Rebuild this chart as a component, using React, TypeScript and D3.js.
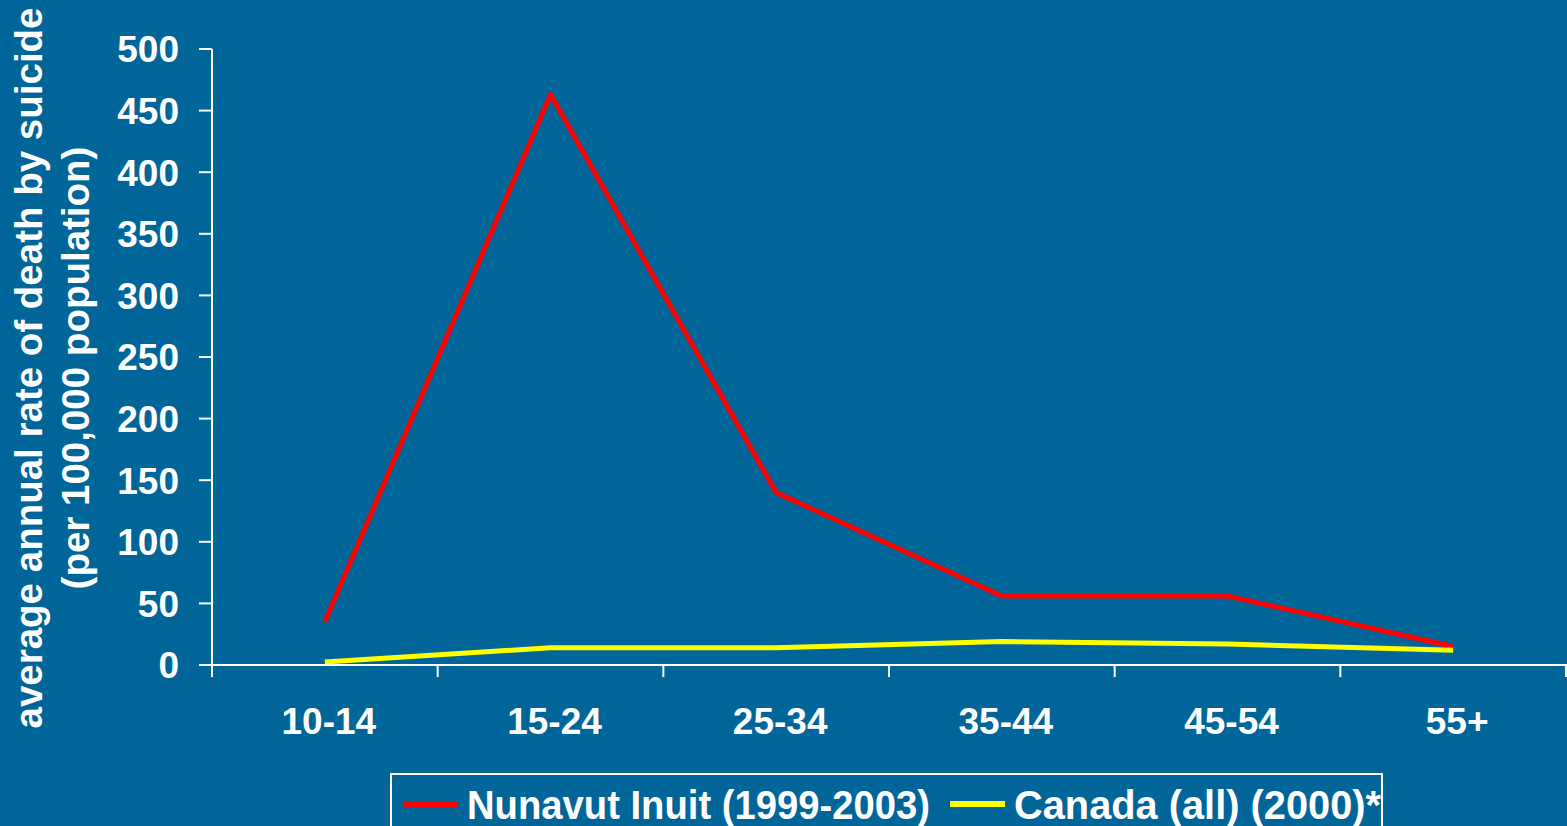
import React from 'react';
import * as d3 from 'd3';

const ageGroups = ['10-14', '15-24', '25-34', '35-44', '45-54', '55+'];
const nunavutRates = [35, 463, 140, 56, 56, 15];
const canadaRates = [2.5, 14, 14, 19, 17, 12];
const yTicks = [0, 50, 100, 150, 200, 250, 300, 350, 400, 450, 500];
const seriesNames = ['Nunavut Inuit (1999-2003)', 'Canada (all) (2000)*'];
const seriesColors = ['#ff0000', '#ffff00'];

const W = 1567;
const H = 826;
const BG = '#006699';
const FONT = '"Liberation Sans", Arial, sans-serif';

const App = () => {
  const x = d3.scaleBand().domain(ageGroups).range([212, 1566]);
  const y = d3.scaleLinear().domain([0, 500]).range([665, 49]);
  const cx = (d: string) => (x(d) as number) + x.bandwidth() / 2;

  const line = d3
    .line<number>()
    .x((_, i) => cx(ageGroups[i]))
    .y((v) => y(v));

  const series = [nunavutRates, canadaRates];
  const tickXs = ageGroups.map((d) => x(d) as number).concat([1566]);

  return (
    <svg
      width={W}
      height={H}
      style={{ position: 'absolute', left: 0, top: 0, display: 'block' }}
    >
      <rect width={W} height={H} fill={BG} />

      {/* y axis */}
      <line x1={212} x2={212} y1={49} y2={677} stroke="#fff" strokeWidth={2} />
      {yTicks.map((t) => (
        <g key={t}>
          <line x1={199} x2={212} y1={y(t)} y2={y(t)} stroke="#fff" strokeWidth={2} />
          <text
            x={179}
            y={y(t)}
            dy="0.36em"
            textAnchor="end"
            fill="#fff"
            fontFamily={FONT}
            fontWeight="bold"
            fontSize={37}
          >
            {t}
          </text>
        </g>
      ))}

      {/* x axis */}
      <line x1={212} x2={1567} y1={665} y2={665} stroke="#fff" strokeWidth={2} />
      {tickXs.map((tx, i) => (
        <line key={i} x1={tx} x2={tx} y1={665} y2={677} stroke="#fff" strokeWidth={2} />
      ))}
      {ageGroups.map((g) => (
        <text
          key={g}
          x={cx(g) + 4}
          y={734}
          textAnchor="middle"
          fill="#fff"
          fontFamily={FONT}
          fontWeight="bold"
          fontSize={37}
        >
          {g}
        </text>
      ))}

      {/* y title */}
      <g transform="translate(0,368) rotate(-90)" fill="#fff" fontFamily={FONT} fontWeight="bold" fontSize={38.5}>
        <text x={0} y={42} textAnchor="middle">
          average annual rate of death by suicide
        </text>
        <text x={0} y={89} textAnchor="middle">
          (per 100,000 population)
        </text>
      </g>

      {/* series */}
      {series.map((s, i) => (
        <path
          key={i}
          d={line(s) as string}
          fill="none"
          stroke={seriesColors[i]}
          strokeWidth={5}
          strokeLinejoin="round"
        />
      ))}

      {/* legend */}
      <rect x={391} y={774} width={991} height={70} fill="none" stroke="#fff" strokeWidth={2} />
      <line x1={403} x2={457} y1={804} y2={804} stroke={seriesColors[0]} strokeWidth={6} />
      <text
        x={467}
        y={819}
        fill="#fff"
        fontFamily={FONT}
        fontWeight="bold"
        fontSize={40}
        textLength={463}
        lengthAdjust="spacingAndGlyphs"
      >
        {seriesNames[0]}
      </text>
      <line x1={950} x2={1005} y1={804} y2={804} stroke={seriesColors[1]} strokeWidth={6} />
      <text
        x={1014}
        y={819}
        fill="#fff"
        fontFamily={FONT}
        fontWeight="bold"
        fontSize={40}
        textLength={367}
        lengthAdjust="spacingAndGlyphs"
      >
        {seriesNames[1]}
      </text>
    </svg>
  );
};

export default App;
